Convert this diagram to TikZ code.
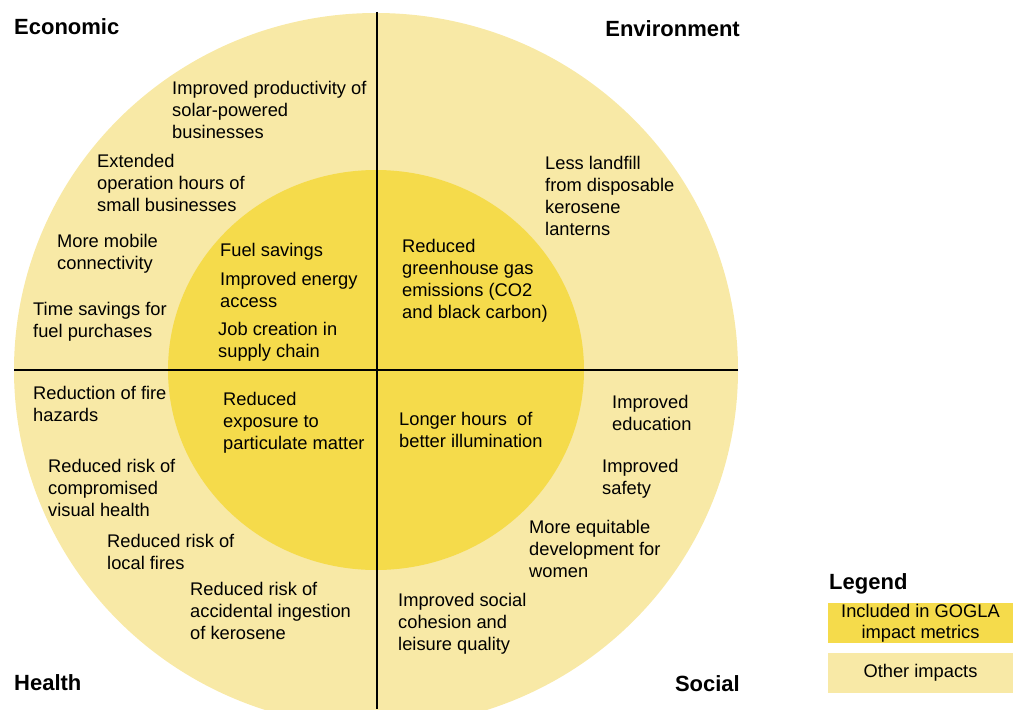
\documentclass[tikz,border=0pt]{standalone}
\usepackage{fontspec}
\setmainfont{Liberation Sans}
\definecolor{goglayellow}{RGB}{245,219,75}
\definecolor{otheryellow}{RGB}{248,233,166}
\tikzset{
  impact/.style={anchor=north west,align=left,inner sep=0pt,
    font=\fontsize{18.3}{22}\selectfont},
  area/.style={inner sep=0pt,font=\fontsize{22}{26}\selectfont\bfseries},
  legbox/.style={minimum width=185pt,minimum height=40pt,inner sep=0pt,
    align=center,font=\fontsize{18.3}{21}\selectfont},
  divider/.style={line width=2pt,draw=black}
}

\begin{document}
\begin{tikzpicture}[x=1pt,y=-1pt]
  \useasboundingbox (0,0) rectangle (1016,709);
  % rings
  \fill[otheryellow] (376,370) ellipse [x radius=362,y radius=357];
  \fill[goglayellow] (376,370) ellipse [x radius=208,y radius=200];
  \draw[divider] (377,12) -- (377,709);
  \draw[divider] (14,370) -- (738,370);
  % quadrant titles
  \node[area,anchor=west] (economic) at (14,27) {Economic};
  \node[area,anchor=east] (environment) at (740,29) {Environment};
  \node[area,anchor=west] (health) at (14,683) {Health};
  \node[area,anchor=east] (social) at (740,684) {Social};
  % economic
  \node[impact] (productivity) at (172,81) {Improved productivity of\\solar-powered\\businesses};
  \node[impact] (hours) at (97,154) {Extended\\operation hours of\\small businesses};
  \node[impact] (mobile) at (57,234) {More mobile\\connectivity};
  \node[impact] (timesave) at (33,302) {Time savings for\\fuel purchases};
  \node[impact] (fuel) at (220,243) {Fuel savings};
  \node[impact] (energy) at (220,272) {Improved energy\\access};
  \node[impact] (jobs) at (218,322) {Job creation in\\supply chain};
  % environment
  \node[impact] (ghg) at (402,239) {Reduced\\greenhouse gas\\emissions (CO2\\and black carbon)};
  \node[impact] (landfill) at (545,156) {Less landfill\\from disposable\\kerosene\\lanterns};
  % health
  \node[impact] (hazards) at (33,386) {Reduction of fire\\hazards};
  \node[impact] (particulate) at (223,392) {Reduced\\exposure to\\particulate matter};
  \node[impact] (visual) at (48,459) {Reduced risk of\\compromised\\visual health};
  \node[impact] (localfires) at (107,534) {Reduced risk of\\local fires};
  \node[impact] (ingestion) at (190,582) {Reduced risk of\\accidental ingestion\\of kerosene};
  % social
  \node[impact] (illumination) at (399,412) {Longer hours\ \ of\\better illumination};
  \node[impact] (education) at (612,395) {Improved\\education};
  \node[impact] (safety) at (602,459) {Improved\\safety};
  \node[impact] (women) at (529,520) {More equitable\\development for\\women};
  \node[impact] (cohesion) at (398,593) {Improved social\\cohesion and\\leisure quality};
  % legend
  \node[area,anchor=base west] (legend) at (829,589) {Legend};
  \node[legbox,fill=goglayellow] (gogla) at (920.5,623) {Included in GOGLA\\impact metrics};
  \node[legbox,fill=otheryellow] (other) at (920.5,673) {Other impacts};
\end{tikzpicture}
\end{document}
